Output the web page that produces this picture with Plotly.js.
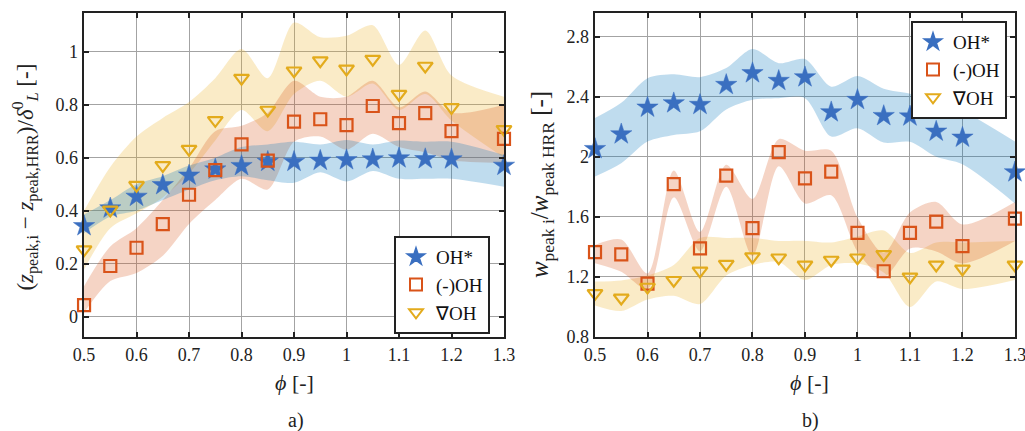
<!DOCTYPE html>
<html>
<head>
<meta charset="utf-8">
<script src="https://cdn.plot.ly/plotly-3.0.1.min.js"></script>
<style>html,body{margin:0;padding:0;background:#fff;}#chart{width:1025px;height:431px;}</style>
</head>
<body>
<div id="chart"></div>
<script>
// ---------- data ----------
const phi = [0.5,0.55,0.6,0.65,0.7,0.75,0.8,0.85,0.9,0.95,1.0,1.05,1.1,1.15,1.2,1.3];
const seriesNames = ["OH*", "(-)OH", "\u2207OH"];

// panel a) : (z_peak,i - z_peak,HRR)/delta_L^0
const ohStarA  = [0.342,0.409,0.453,0.497,0.533,0.556,0.569,0.585,0.585,0.589,0.591,0.594,0.598,0.595,0.594,0.570];
const minusOhA = [0.043,0.191,0.260,0.349,0.460,0.553,0.650,0.589,0.736,0.745,0.723,0.795,0.730,0.768,0.700,0.671];
const gradOhA  = [0.253,0.403,0.496,0.571,0.632,0.741,0.900,0.780,0.928,0.966,0.935,0.972,0.840,0.946,0.790,0.707];
const blueUpA  = [0.385,0.440,0.500,0.530,0.570,0.600,0.640,0.650,0.660,0.650,0.667,0.650,0.665,0.660,0.660,0.610];
const blueLoA  = [0.315,0.378,0.400,0.440,0.480,0.515,0.530,0.515,0.505,0.545,0.510,0.550,0.520,0.520,0.520,0.490];
const redUpA   = [0.115,0.265,0.334,0.440,0.560,0.700,0.720,0.770,0.890,0.830,0.830,0.890,0.790,0.850,0.770,0.800];
const redLoA   = [0.015,0.134,0.165,0.230,0.350,0.440,0.520,0.480,0.660,0.680,0.630,0.690,0.640,0.620,0.590,0.580];
const yelUpA   = [0.400,0.565,0.680,0.750,0.810,0.900,1.010,0.900,1.110,1.055,1.060,1.100,0.950,1.080,0.910,0.830];
const yelLoA   = [0.178,0.334,0.390,0.450,0.540,0.665,0.780,0.700,0.840,0.890,0.830,0.880,0.780,0.840,0.740,0.600];

// panel b) : w_peak i / w_peak HRR
const ohStarB  = [2.053,2.151,2.329,2.358,2.347,2.480,2.558,2.507,2.531,2.298,2.380,2.273,2.270,2.169,2.129,1.898];
const minusOhB = [1.365,1.350,1.155,1.818,1.390,1.875,1.525,2.032,1.857,1.902,1.493,1.238,1.493,1.568,1.405,1.588];
const gradOhB  = [1.091,1.060,1.133,1.178,1.240,1.285,1.335,1.328,1.280,1.313,1.328,1.350,1.200,1.280,1.254,1.280];
const blueUpB  = [2.258,2.360,2.524,2.550,2.531,2.591,2.718,2.624,2.651,2.467,2.538,2.453,2.420,2.373,2.307,2.102];
const blueLoB  = [1.869,1.958,2.102,2.146,2.170,2.316,2.380,2.391,2.391,2.135,2.191,2.095,2.100,2.000,1.950,1.690];
const redUpB   = [1.413,1.449,1.223,1.909,1.500,1.948,1.720,2.118,2.040,2.040,1.597,1.360,1.630,1.700,1.550,1.700];
const redLoB   = [1.291,1.234,1.120,1.730,1.370,1.800,1.340,1.937,1.690,1.744,1.370,1.200,1.390,1.370,1.290,1.440];
const yelUpB   = [1.170,1.177,1.210,1.280,1.460,1.460,1.460,1.440,1.440,1.430,1.470,1.510,1.360,1.430,1.430,1.440];
const yelLoB   = [1.010,0.973,1.050,1.075,1.020,1.210,1.280,1.300,1.180,1.280,1.290,1.230,1.000,1.170,1.120,1.180];

const xTickVals = [0.5,0.6,0.7,0.8,0.9,1.0,1.1,1.2,1.3];
const xTickText = ["0.5","0.6","0.7","0.8","0.9","1","1.1","1.2","1.3"];
const yTickValsA = [0,0.2,0.4,0.6,0.8,1];
const yTickTextA = ["0","0.2","0.4","0.6","0.8","1"];
const yTickValsB = [0.8,1.2,1.6,2.0,2.4,2.8];
const yTickTextB = ["0.8","1.2","1.6","2","2.4","2.8"];

// ---------- styles ----------
const C_BLUE = "#3a6fc0", C_RED = "#d95319", C_YEL = "#e3ab1c";
const F_BLUE = "rgba(0,114,189,0.25)", F_RED = "rgba(217,83,25,0.25)", F_YEL = "rgba(237,177,32,0.25)";
const FONT = "Liberation Serif";

function band(lo, up, fill, xa, ya) {
  return [
    {x: phi, y: lo, xaxis: xa, yaxis: ya, mode: "lines", line: {width: 0, shape: "spline", smoothing: 0.8},
     showlegend: false, hoverinfo: "skip"},
    {x: phi, y: up, xaxis: xa, yaxis: ya, mode: "lines", line: {width: 0, shape: "spline", smoothing: 0.8},
     fill: "tonexty", fillcolor: fill, showlegend: false, hoverinfo: "skip"}
  ];
}
function markers(y, name, sym, color, size, lw, xa, ya, leg) {
  return {x: phi, y: y, xaxis: xa, yaxis: ya, mode: "markers", name: name, legend: leg,
    cliponaxis: false,
    marker: {symbol: sym, size: size, color: color, line: {width: lw, color: color}}};
}

const traces = [].concat(
  band(yelLoA, yelUpA, F_YEL, "x", "y"),
  band(redLoA, redUpA, F_RED, "x", "y"),
  band(blueLoA, blueUpA, F_BLUE, "x", "y"),
  band(yelLoB, yelUpB, F_YEL, "x2", "y2"),
  band(redLoB, redUpB, F_RED, "x2", "y2"),
  band(blueLoB, blueUpB, F_BLUE, "x2", "y2"),
  [
    markers(ohStarA, seriesNames[0], "star", C_BLUE, 16, 0.5, "x", "y", "legend"),
    markers(minusOhA, seriesNames[1], "square-open", C_RED, 12, 2.2, "x", "y", "legend"),
    markers(gradOhA, seriesNames[2], "triangle-down-open", C_YEL, 13, 2.2, "x", "y", "legend"),
    markers(ohStarB, seriesNames[0], "star", C_BLUE, 16, 0.5, "x2", "y2", "legend2"),
    markers(minusOhB, seriesNames[1], "square-open", C_RED, 12, 2.2, "x2", "y2", "legend2"),
    markers(gradOhB, seriesNames[2], "triangle-down-open", C_YEL, 13, 2.2, "x2", "y2", "legend2")
  ]
);

const axBase = {
  showline: true, linecolor: "#222", linewidth: 2.5, mirror: "ticks",
  ticks: "inside", ticklen: 5, tickwidth: 2, tickcolor: "#222",
  showgrid: true, gridcolor: "#a3a3a3", gridwidth: 1, zeroline: false,
  ticklabeloverflow: "allow",
  tickfont: {family: FONT, size: 18, color: "#222"}, fixedrange: true
};
const yDom = [0.2181, 0.9698];
const legBase = {font: {family: FONT, size: 19, color: "#111"}, bgcolor: "#fff",
  bordercolor: "#222", borderwidth: 2, traceorder: "normal", itemsizing: "constant",
  tracegroupgap: 0, itemwidth: 30};

const layout = {
  width: 1025, height: 431, autosize: false,
  margin: {l: 0, r: 0, t: 0, b: 0},
  paper_bgcolor: "#fff", plot_bgcolor: "#fff",
  font: {family: FONT, size: 17, color: "#111"},
  showlegend: true,
  xaxis: Object.assign({}, axBase, {domain: [0.0820, 0.4917], range: [0.5, 1.3], anchor: "y",
    tickvals: xTickVals, ticktext: xTickText}),
  yaxis: Object.assign({}, axBase, {domain: yDom, range: [-0.077, 1.146], anchor: "x",
    tickvals: yTickValsA, ticktext: yTickTextA}),
  xaxis2: Object.assign({}, axBase, {domain: [0.5805, 0.9902], range: [0.5, 1.3], anchor: "y2",
    tickvals: xTickVals, ticktext: xTickText}),
  yaxis2: Object.assign({}, axBase, {domain: yDom, range: [0.8, 2.958], anchor: "x2",
    tickvals: yTickValsB, ticktext: yTickTextB}),
  legend: Object.assign({}, legBase, {x: 490/1025, y: 1 - 334/431, xanchor: "right", yanchor: "bottom"}),
  legend2: Object.assign({}, legBase, {x: 1007/1025, y: 1 - 21/431, xanchor: "right", yanchor: "top"}),
  annotations: [
    {xref: "paper", yref: "paper", x: 0.0244, y: 0.588, textangle: -90, showarrow: false,
     xanchor: "center", yanchor: "middle",
     text: "(<i>z</i><sub>peak,i</sub> \u2212 <i>z</i><sub>peak,HRR</sub>)/<i>\u03b4</i><sup>0</sup><sub><i>L</i></sub> [-]",
     font: {family: FONT, size: 23, color: "#222"}},
    {xref: "paper", yref: "paper", x: 0.529, y: 0.571, textangle: -90, showarrow: false,
     xanchor: "center", yanchor: "middle",
     text: "<i>w</i><sub>peak i</sub>/<i>w</i><sub>peak HRR</sub> [-]",
     font: {family: FONT, size: 25, color: "#222"}},
    {xref: "paper", yref: "paper", x: 294/1025, y: 1 - 382/431, showarrow: false,
     xanchor: "center", yanchor: "middle", text: "<i>\u03d5</i> [-]",
     font: {family: FONT, size: 22, color: "#222"}},
    {xref: "paper", yref: "paper", x: 809/1025, y: 1 - 382/431, showarrow: false,
     xanchor: "center", yanchor: "middle", text: "<i>\u03d5</i> [-]",
     font: {family: FONT, size: 22, color: "#222"}},
    {xref: "paper", yref: "paper", x: 296/1025, y: 1 - 420/431, showarrow: false,
     xanchor: "center", yanchor: "middle", text: "a)",
     font: {family: FONT, size: 20, color: "#222"}},
    {xref: "paper", yref: "paper", x: 810/1025, y: 1 - 420/431, showarrow: false,
     xanchor: "center", yanchor: "middle", text: "b)",
     font: {family: FONT, size: 20, color: "#222"}}
  ]
};

Plotly.newPlot("chart", traces, layout, {staticPlot: true, displayModeBar: false});
</script>
</body>
</html>
